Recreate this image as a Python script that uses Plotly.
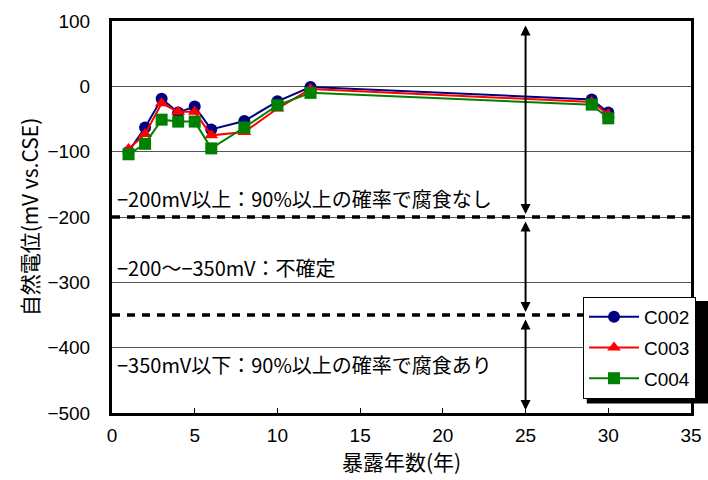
import plotly.graph_objects as go

# exposure years and natural potential (mV vs. CSE)
years = [1, 2, 3, 4, 5, 6, 8, 10, 12, 29, 30]
c002 = [-100, -63, -19, -40, -31, -66, -53, -23, -1, -20, -40]
c003 = [-96, -73, -26, -39, -39, -75, -70, -34, -4, -24, -43]
c004 = [-104, -88, -51, -54, -54, -95, -63, -29, -10, -28, -49]

series = [("C002", c002, "#000080", "circle"),
          ("C003", c003, "#ff0000", "triangle-up"),
          ("C004", c004, "#008000", "square")]

# judgement thresholds and band labels
thresholds = [-200, -350]
arrow_x = 25
arrow_spans = [(100, -200), (-200, -350), (-350, -500)]
band_labels = [(-172, "−200mV以上：90%以上の確率で腐食なし"),
               (-277, "−200～−350mV：不確定"),
               (-426, "−350mV以下：90%以上の確率で腐食あり")]

jp_font = "Noto Sans CJK JP"
num_font = "Liberation Sans, Arial"

fig = go.Figure()

for name, vals, color, sym in series:
    fig.add_trace(go.Scatter(x=years, y=vals, name=name, legendgroup=name,
                             mode="lines+markers",
                             line=dict(color=color, width=2),
                             marker=dict(symbol=sym, size=12, color=color)))

for t in thresholds:
    fig.add_shape(type="line", xref="paper", x0=0, x1=1, yref="y", y0=t, y1=t,
                  line=dict(color="black", width=3.5, dash="8px,7px"))

for y0, y1 in arrow_spans:
    fig.add_annotation(x=arrow_x, y=y1, ax=arrow_x, ay=y0, xref="x", yref="y",
                       axref="x", ayref="y", text="", showarrow=True,
                       arrowhead=2, arrowside="end+start", arrowsize=1,
                       arrowwidth=2, arrowcolor="black", standoff=3, startstandoff=3)

for yv, txt in band_labels:
    fig.add_annotation(x=0.2, y=yv, xref="x", yref="y", text=txt, showarrow=False,
                       xanchor="left", yanchor="middle",
                       font=dict(family=jp_font, size=20, color="black"))

# legend drop shadow
fig.add_shape(type="rect", xref="paper", yref="paper", x0=0.82, x1=1.04, y0=0.024, y1=0.286,
              fillcolor="black", line=dict(width=0), layer="above")

fig.update_xaxes(range=[0, 35], dtick=5, showgrid=False, ticks="inside", ticklen=5,
                 tickcolor="black", showline=True, linecolor="black", linewidth=3,
                 mirror=True, automargin=False, ticklabelstandoff=3,
                 tickfont=dict(family=num_font, size=19, color="black"),
                 title=dict(text="暴露年数(年)", font=dict(family=jp_font, size=21, color="black"),
                            standoff=4))
fig.update_yaxes(range=[-500, 100], dtick=100, showgrid=True, gridcolor="#555555",
                 gridwidth=1, zeroline=False, showline=True, linecolor="black",
                 linewidth=3, mirror=True, automargin=False, ticklabelstandoff=15,
                 tickfont=dict(family=num_font, size=19, color="black"),
                 title=dict(text="自然電位(mV vs.CSE)", font=dict(family=jp_font, size=21, color="black"),
                            standoff=4))

fig.update_layout(width=708, height=480, plot_bgcolor="white", paper_bgcolor="white",
                  margin=dict(l=112, r=17, t=21, b=67),
                  legend=dict(x=0.8135, y=0.296, xanchor="left", yanchor="top",
                              bgcolor="white", bordercolor="black", borderwidth=1,
                              font=dict(family=num_font, size=19, color="black"),
                              itemwidth=50, tracegroupgap=3))

fig.write_html("out.html", config={"displayModeBar": False},
               post_script="document.body.style.margin='0';")
